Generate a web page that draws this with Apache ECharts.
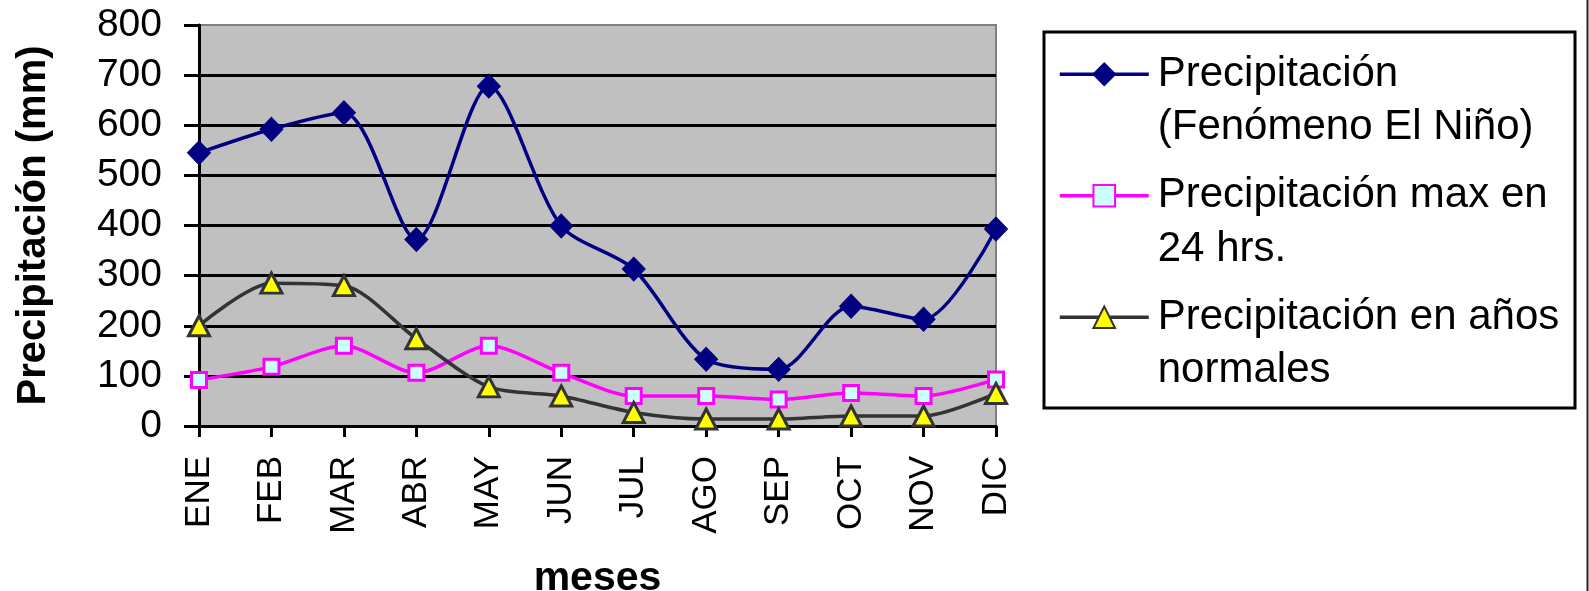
<!DOCTYPE html>
<html>
<head>
<meta charset="utf-8">
<script src="https://cdn.jsdelivr.net/npm/echarts@6/dist/echarts.min.js"></script>
<style>
  html, body { margin: 0; padding: 0; background: #ffffff; }
  #chart { width: 1589px; height: 591px; }
</style>
</head>
<body>
<div id="chart"></div>
<script>
// Monthly precipitation (mm)
const months = ['ENE', 'FEB', 'MAR', 'ABR', 'MAY', 'JUN', 'JUL', 'AGO', 'SEP', 'OCT', 'NOV', 'DIC'];
const seriesNames = [
  'Precipitación\n(Fenómeno El Niño)',
  'Precipitación max en\n24 hrs.',
  'Precipitación en años\nnormales'
];
const elNino = [545, 592, 625, 372, 678, 399, 313, 133, 113, 239, 213, 393];
const max24h = [92, 118, 160, 106, 160, 106, 60, 60, 53, 66, 60, 93];
const normalYears = [200, 285, 280, 174, 78, 60, 27, 14, 14, 20, 20, 65];
const yTicks = { min: 0, max: 800, interval: 100 };

const FONT = "'Liberation Sans', Arial, sans-serif";
const LINE_W = 3.5;

const chart = echarts.init(document.getElementById('chart'), null, { renderer: 'canvas' });

chart.setOption({
  animation: false,
  backgroundColor: '#ffffff',
  textStyle: { fontFamily: FONT },
  grid: {
    left: 199, right: 593, top: 25, bottom: 165,
    outerBoundsMode: 'none',
    containLabel: false,
    show: true,
    backgroundColor: '#c0c0c0',
    borderColor: '#808080',
    borderWidth: 2
  },
  xAxis: {
    type: 'category',
    data: months,
    boundaryGap: false,
    name: 'meses',
    nameLocation: 'middle',
    nameGap: 132,
    nameTextStyle: { fontFamily: FONT, fontSize: 41, fontWeight: 'bold', color: '#000' },
    axisLine: { lineStyle: { color: '#000', width: 3 } },
    axisTick: { show: true, length: 11, lineStyle: { color: '#000', width: 3 } },
    axisLabel: { rotate: 90, margin: 30, fontFamily: FONT, fontSize: 35, color: '#000', interval: 0 },
    splitLine: { show: false }
  },
  yAxis: {
    type: 'value',
    min: yTicks.min, max: yTicks.max, interval: yTicks.interval,
    name: 'Precipitación (mm)',
    nameLocation: 'middle',
    nameGap: 145,
    nameTextStyle: { fontFamily: FONT, fontSize: 40, fontWeight: 'bold', color: '#000' },
    axisLine: { show: true, lineStyle: { color: '#000', width: 3 } },
    axisTick: { show: true, length: 15, lineStyle: { color: '#000', width: 3 } },
    axisLabel: { margin: 37, fontFamily: FONT, fontSize: 39, color: '#000' },
    splitLine: { show: true, showMaxLine: false, lineStyle: { color: '#000', width: 3 } }
  },
  legend: {
    orient: 'vertical',
    left: 1058,
    top: -6,
    padding: 0,
    itemWidth: 89,
    itemHeight: 27,
    itemGap: -39,
    selectedMode: false,
    data: seriesNames.map(name => ({ name: name, lineStyle: { width: LINE_W } })),
    lineStyle: { width: LINE_W },
    // leading empty line puts the first text line level with the icon
    formatter: name => '\n' + name,
    textStyle: {
      fontFamily: FONT, fontSize: 42, lineHeight: 53.5, color: '#000',
      padding: [0, 0, 0, 4]
    }
  },
  graphic: [
    {
      type: 'rect', silent: true,
      shape: { x: 1044, y: 32, width: 531, height: 376 },
      style: { fill: 'none', stroke: '#000', lineWidth: 3 }
    },
    {
      type: 'line', silent: true,
      shape: { x1: 1587.5, y1: 0, x2: 1587.5, y2: 591 },
      style: { stroke: '#222', lineWidth: 2 }
    }
  ],
  series: [
    {
      name: seriesNames[0],
      type: 'line',
      data: elNino,
      smooth: 0.28,
      symbol: 'diamond',
      symbolSize: [23, 24],
      lineStyle: { color: '#000080', width: LINE_W },
      itemStyle: { color: '#000080', borderColor: '#000080', borderWidth: 1 },
      emphasis: { disabled: true }
    },
    {
      name: seriesNames[1],
      type: 'line',
      data: max24h,
      smooth: 0.28,
      symbol: 'rect',
      symbolSize: 15,
      lineStyle: { color: '#ff00ff', width: LINE_W },
      itemStyle: { color: '#ccffff', borderColor: '#ff00ff', borderWidth: 3 },
      emphasis: { disabled: true }
    },
    {
      name: seriesNames[2],
      type: 'line',
      data: normalYears,
      smooth: 0.28,
      symbol: 'triangle',
      symbolSize: [21, 20],
      lineStyle: { color: '#333333', width: LINE_W },
      itemStyle: { color: '#ffff00', borderColor: '#333333', borderWidth: 3 },
      emphasis: { disabled: true }
    }
  ]
});
</script>
</body>
</html>
